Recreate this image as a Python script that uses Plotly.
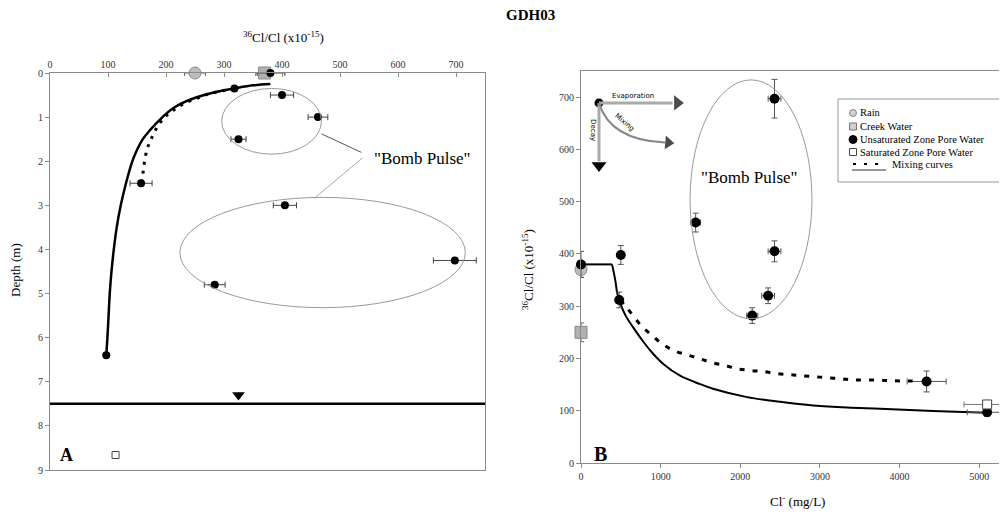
import plotly.graph_objects as go

FONT = "Liberation Serif"
W, H = 1007, 514
OFF = 8  # page body margin of the rendered html

# ---------------- Panel A (depth profile) ----------------
a_unsat_x = [380, 318, 400, 462, 325, 157, 405, 698, 284, 97]
a_unsat_depth = [0, 0.35, 0.5, 1.0, 1.5, 2.5, 3.0, 4.25, 4.8, 6.4]
a_unsat_err = [25, 0, 20, 17, 13, 19, 20, 37, 18, 0]
a_rain_x, a_rain_depth, a_rain_err = [250], [0], [18]
a_creek_x, a_creek_depth, a_creek_err = [370], [0], [12]
a_sat_x, a_sat_depth = [113], [8.66]

a_solid_x = [380, 350, 318, 290, 253, 225, 207, 194, 172, 160, 148, 142, 131, 122, 115, 110, 106, 103, 101, 99, 97]
a_solid_depth = [0.25, 0.28, 0.35, 0.42, 0.55, 0.7, 0.85, 1.0, 1.3, 1.5, 1.8, 2.0, 2.5, 3.0, 3.5, 4.0, 4.5, 5.0, 5.5, 6.0, 6.4]
a_dot_x = [318, 300, 275, 258, 230, 212, 198, 186, 176, 168, 163, 160, 157]
a_dot_depth = [0.35, 0.40, 0.47, 0.55, 0.7, 0.85, 1.0, 1.2, 1.45, 1.7, 2.0, 2.3, 2.5]

water_table_depth = 7.5
wt_marker_x, wt_marker_depth = [325], [7.3]

a_ellipses = [(296, 468, 0.35, 1.84), (224, 716, 2.82, 5.32)]
a_label = (642, 1.93)
a_connectors = [((468, 1.38), (537, 1.8), "#555"), ((539, 1.92), (456, 2.84), "#aaa")]

# ---------------- Panel B (36Cl/Cl vs Cl) ----------------
b_unsat_x = [0, 500, 480, 1440, 2430, 2430, 2350, 2150, 4340, 5100]
b_unsat_y = [380, 398, 312, 460, 697, 405, 320, 282, 156, 97]
b_unsat_xerr = [0, 20, 20, 60, 80, 80, 80, 70, 245, 250]
b_unsat_yerr = [25, 18, 15, 18, 37, 20, 15, 15, 20, 8]
b_rain_x, b_rain_y, b_rain_yerr = [0], [370], [15]
b_creek_x, b_creek_y, b_creek_yerr = [0], [250], [18]
b_sat_x, b_sat_y, b_sat_xerr = [5100], [112], [290]

b_flat_x = [0, 390]
b_flat_y = [380, 380]
b_solid_x = [390, 430, 455, 490, 560, 653, 783, 900, 1030, 1244, 1495, 1658, 2085, 2500, 2915, 3342, 3756, 4200, 4700, 5100]
b_solid_y = [380, 350, 325, 307, 282, 260, 232, 210, 190, 167, 151, 142, 126, 117, 110, 106, 104, 101, 98, 96]
b_dot_x = [490, 560, 653, 760, 879, 1018, 1168, 1332, 1482, 1646, 1822, 1972, 2136, 2286, 2462, 2626, 2776, 2940, 3103, 3279, 3417, 3593, 3800, 4000, 4250]
b_dot_y = [312, 300, 282, 262, 246, 228, 215, 207, 200, 192, 186, 180, 177, 175, 171, 169, 167, 165, 163, 161, 159, 159, 158, 157, 157]

b_ellipse = (1370, 2900, 276, 733)
b_label = (2110, 547)
origin = (226, 689)
evap_end = (1270, 689)
decay_end = (226, 557)
mix_ctrl = (364, 618)
mix_end = (1156, 612)

legend_labels = ["Rain", "Creek Water", "Unsaturated Zone Pore Water", "Saturated Zone Pore Water", "Mixing curves"]


def px(x):
    return (x - OFF) / W


def py(y):
    return 1 - (y - OFF) / H


fig = go.Figure()


def ebar(arr, color="#444"):
    return dict(type="data", array=arr, visible=True, color=color, thickness=1, width=3)


# Panel A traces
fig.add_trace(go.Scatter(x=a_solid_x, y=a_solid_depth, mode="lines", line=dict(color="black", width=2.5, shape="spline"),
                         xaxis="x", yaxis="y", hoverinfo="skip"))
fig.add_trace(go.Scatter(x=a_dot_x, y=a_dot_depth, mode="lines", line=dict(color="black", width=3, dash="3px,6px", shape="spline"),
                         xaxis="x", yaxis="y", hoverinfo="skip"))
fig.add_trace(go.Scatter(x=a_rain_x, y=a_rain_depth, mode="markers", error_x=ebar(a_rain_err, "#666"),
                         marker=dict(symbol="circle", size=12, color="#bdbdbd", line=dict(color="#888", width=1)),
                         cliponaxis=False, xaxis="x", yaxis="y"))
fig.add_trace(go.Scatter(x=a_creek_x, y=a_creek_depth, mode="markers", error_x=ebar(a_creek_err, "#666"),
                         marker=dict(symbol="square", size=12, color="#b0b0b0", line=dict(color="#888", width=1)),
                         cliponaxis=False, xaxis="x", yaxis="y"))
fig.add_trace(go.Scatter(x=a_unsat_x, y=a_unsat_depth, mode="markers", error_x=ebar(a_unsat_err, "#444"),
                         marker=dict(symbol="circle", size=8, color="black"),
                         cliponaxis=False, xaxis="x", yaxis="y"))
fig.add_trace(go.Scatter(x=a_sat_x, y=a_sat_depth, mode="markers",
                         marker=dict(symbol="square", size=7, color="white", line=dict(color="#444", width=1)),
                         xaxis="x", yaxis="y"))
fig.add_trace(go.Scatter(x=wt_marker_x, y=wt_marker_depth, mode="markers",
                         marker=dict(symbol="triangle-down", size=11, color="black"),
                         xaxis="x", yaxis="y"))

# Panel B traces
fig.add_trace(go.Scatter(x=b_rain_x, y=b_rain_y, mode="markers", error_y=ebar(b_rain_yerr, "#666"),
                         marker=dict(symbol="circle", size=12, color="#bdbdbd", line=dict(color="#888", width=1)),
                         cliponaxis=False, xaxis="x2", yaxis="y2"))
fig.add_trace(go.Scatter(x=b_creek_x, y=b_creek_y, mode="markers", error_y=ebar(b_creek_yerr, "#666"),
                         marker=dict(symbol="square", size=12, color="#b0b0b0", line=dict(color="#888", width=1)),
                         cliponaxis=False, xaxis="x2", yaxis="y2"))
fig.add_trace(go.Scatter(x=b_flat_x, y=b_flat_y, mode="lines", line=dict(color="black", width=2),
                         xaxis="x2", yaxis="y2", hoverinfo="skip"))
fig.add_trace(go.Scatter(x=b_solid_x, y=b_solid_y, mode="lines", line=dict(color="black", width=2, shape="spline"),
                         xaxis="x2", yaxis="y2", hoverinfo="skip"))
fig.add_trace(go.Scatter(x=b_unsat_x, y=b_unsat_y, mode="markers",
                         error_x=ebar(b_unsat_xerr, "#555"), error_y=ebar(b_unsat_yerr, "#555"),
                         marker=dict(symbol="circle", size=10, color="black"),
                         cliponaxis=False, xaxis="x2", yaxis="y2"))
fig.add_trace(go.Scatter(x=b_sat_x, y=b_sat_y, mode="markers", error_x=ebar(b_sat_xerr, "#777"),
                         marker=dict(symbol="square", size=9, color="white", line=dict(color="#444", width=1)),
                         cliponaxis=False, xaxis="x2", yaxis="y2"))
fig.add_trace(go.Scatter(x=b_dot_x, y=b_dot_y, mode="lines",
                         line=dict(color="black", width=3, dash="5px,8px", shape="spline"),
                         xaxis="x2", yaxis="y2", hoverinfo="skip"))
# process-arrow origin and heads
fig.add_trace(go.Scatter(x=[origin[0]], y=[origin[1]], mode="markers", marker=dict(size=9, color="black"),
                         cliponaxis=False, xaxis="x2", yaxis="y2", hoverinfo="skip"))
fig.add_trace(go.Scatter(x=[evap_end[0] - 60, mix_end[0] - 60], y=[evap_end[1], mix_end[1] + 1], mode="markers",
                         marker=dict(symbol="triangle-right", size=[13, 12], color="black", angle=[0, 5],
                                     line=dict(width=0)),
                         cliponaxis=False, xaxis="x2", yaxis="y2", hoverinfo="skip"))
fig.add_trace(go.Scatter(x=[decay_end[0]], y=[decay_end[1] + 12], mode="markers",
                         marker=dict(symbol="triangle-down", size=13, color="black", line=dict(width=0)),
                         cliponaxis=False, xaxis="x2", yaxis="y2", hoverinfo="skip"))

shapes = []
for x0, x1, y0, y1 in a_ellipses:
    shapes.append(dict(type="circle", xref="x", yref="y", x0=x0, x1=x1, y0=y0, y1=y1,
                       line=dict(color="#9a9a9a", width=1)))
for (p0, p1, c) in a_connectors:
    shapes.append(dict(type="line", xref="x", yref="y", x0=p0[0], y0=p0[1], x1=p1[0], y1=p1[1],
                       line=dict(color=c, width=1)))
shapes.append(dict(type="line", xref="x", yref="y", x0=0, x1=750, y0=water_table_depth, y1=water_table_depth,
                   line=dict(color="black", width=2.5)))
x0, x1, y0, y1 = b_ellipse
shapes.append(dict(type="circle", xref="x2", yref="y2", x0=x0, x1=x1, y0=y0, y1=y1,
                   line=dict(color="#9a9a9a", width=1)))
# arrow shafts
shapes.append(dict(type="line", xref="x2", yref="y2", x0=origin[0], y0=origin[1], x1=evap_end[0] - 120, y1=evap_end[1],
                   line=dict(color="#aaa", width=3)))
shapes.append(dict(type="line", xref="x2", yref="y2", x0=origin[0], y0=origin[1], x1=decay_end[0], y1=decay_end[1] + 20,
                   line=dict(color="#aaa", width=3)))
shapes.append(dict(type="path", xref="x2", yref="y2",
                   path=f"M {origin[0]},{origin[1]} Q {mix_ctrl[0]},{mix_ctrl[1]} {mix_end[0]-100},{mix_end[1]+1}",
                   line=dict(color="#888", width=2)))

# manual legend (paper coordinates)
shapes.append(dict(type="rect", xref="paper", yref="paper", x0=px(838), x1=px(1004), y0=py(182), y1=py(99),
                   line=dict(color="#999", width=1), fillcolor="white", layer="below"))
leg_rows = [113, 126.5, 139.5, 152, 164.5]
shapes.append(dict(type="circle", xref="paper", yref="paper", x0=px(849.5), x1=px(856.5), y0=py(116.5), y1=py(109.5),
                   line=dict(color="#888", width=1), fillcolor="#cfcfcf"))
shapes.append(dict(type="rect", xref="paper", yref="paper", x0=px(849.5), x1=px(856.5), y0=py(130), y1=py(123),
                   line=dict(color="#777", width=1), fillcolor="#cfcfcf"))
shapes.append(dict(type="circle", xref="paper", yref="paper", x0=px(849), x1=px(857), y0=py(143.5), y1=py(135.5),
                   line=dict(color="black", width=1), fillcolor="black"))
shapes.append(dict(type="rect", xref="paper", yref="paper", x0=px(849.5), x1=px(856.5), y0=py(155.5), y1=py(148.5),
                   line=dict(color="#444", width=1), fillcolor="white"))
shapes.append(dict(type="line", xref="paper", yref="paper", x0=px(853), x1=px(886), y0=py(164), y1=py(164),
                   line=dict(color="black", width=2, dash="3px,8px")))
shapes.append(dict(type="line", xref="paper", yref="paper", x0=px(852), x1=px(886), y0=py(170), y1=py(170),
                   line=dict(color="#333", width=1)))

annotations = [
    dict(text="<b>GDH03</b>", xref="paper", yref="paper", x=px(530), y=py(15), xanchor="center", yanchor="middle",
         showarrow=False, font=dict(family=FONT, size=15, color="black")),
    dict(text="<sup>36</sup>Cl/Cl (x10<sup>-15</sup>)", xref="paper", yref="paper", x=px(283), y=py(37),
         xanchor="center", yanchor="middle", showarrow=False, font=dict(family=FONT, size=13, color="black")),
    dict(text="Depth (m)", xref="paper", yref="paper", x=px(15), y=py(270), textangle=-90,
         xanchor="center", yanchor="middle", showarrow=False, font=dict(family=FONT, size=13, color="black")),
    dict(text="<sup>36</sup>Cl/Cl (x10<sup>-15</sup>)", xref="paper", yref="paper", x=px(528), y=py(270),
         textangle=-90, xanchor="center", yanchor="middle", showarrow=False,
         font=dict(family=FONT, size=13, color="black")),
    dict(text="Cl<sup>-</sup> (mg/L)", xref="paper", yref="paper", x=px(797), y=py(501),
         xanchor="center", yanchor="middle", showarrow=False, font=dict(family=FONT, size=13, color="black")),
    dict(text="<b>A</b>", xref="x", yref="y", x=29, y=8.66, showarrow=False,
         font=dict(family=FONT, size=18, color="black")),
    dict(text="<b>B</b>", xref="x2", yref="y2", x=240, y=17, showarrow=False,
         font=dict(family=FONT, size=20, color="black")),
    dict(text='"Bomb Pulse"', xref="x", yref="y", x=a_label[0], y=a_label[1], showarrow=False,
         font=dict(family=FONT, size=17, color="black")),
    dict(text='"Bomb Pulse"', xref="x2", yref="y2", x=b_label[0], y=b_label[1], showarrow=False,
         font=dict(family=FONT, size=17, color="black")),
    dict(text="Evaporation", xref="x2", yref="y2", x=653, y=703, showarrow=False,
         font=dict(family="DejaVu Sans", size=7, color="black")),
    dict(text="Decay", xref="x2", yref="y2", x=150, y=637, textangle=90, showarrow=False,
         font=dict(family="DejaVu Sans", size=7, color="black")),
    dict(text="Mixing", xref="x2", yref="y2", x=540, y=652, textangle=40, showarrow=False,
         font=dict(family="DejaVu Sans", size=7, color="black")),
]
for i, lab in enumerate(legend_labels):
    xt = 890 if i == 4 else 858
    annotations.append(dict(text=lab, xref="paper", yref="paper", x=px(xt), y=py(leg_rows[i]),
                            xanchor="left", yanchor="middle", showarrow=False,
                            font=dict(family=FONT, size=10.5, color="black")))

tickfont = dict(family=FONT, size=10, color="#333")
axis_common = dict(showgrid=False, zeroline=False, showline=True, linecolor="#8a8a8a", linewidth=1,
                   tickcolor="#8a8a8a", ticklen=4, tickfont=tickfont, automargin=False)

fig.update_layout(
    template="none",
    width=W, height=H,
    margin=dict(l=0, r=0, t=0, b=0, pad=0, autoexpand=False),
    paper_bgcolor="white", plot_bgcolor="white",
    font=dict(family=FONT),
    showlegend=False,
    xaxis=dict(domain=[px(50), px(485)], range=[0, 750], side="top", anchor="y", dtick=100,
               ticks="inside", mirror=True, **axis_common),
    yaxis=dict(domain=[py(470), py(73)], range=[9, 0], anchor="x", dtick=1,
               ticks="outside", mirror=True, **axis_common),
    xaxis2=dict(domain=[px(581), 1.0], range=[0, 5450], anchor="y2", dtick=1000,
                ticks="outside", mirror=True, **axis_common),
    yaxis2=dict(domain=[py(463), py(71)], range=[0, 750], anchor="x2", dtick=100,
                ticks="outside", **axis_common),
    shapes=shapes,
    annotations=annotations,
)

fig.write_html("out.html")
